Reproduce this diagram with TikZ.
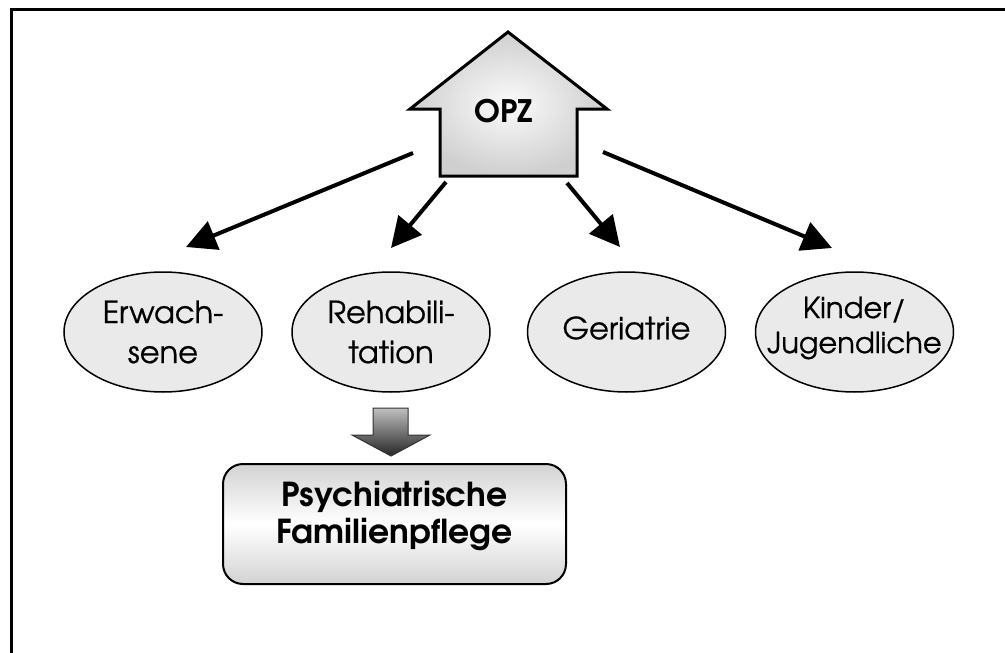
\documentclass[tikz,border=0pt]{standalone}
\usepackage{fontspec}
\setmainfont{TeX Gyre Adventor}
\newfontfamily\ellfont[FakeBold=0.6]{TeX Gyre Adventor}
\usetikzlibrary{arrows.meta,shapes.geometric}
\definecolor{ellfill}{HTML}{EAEAEA}
\begin{document}
\begin{tikzpicture}[x=1pt,y=-1pt,
  arr/.style={line width=4pt,-{Triangle[length=30pt,width=30pt]}},
  ell/.style={ellipse,draw,line width=1.5pt,fill=ellfill,minimum width=198pt,minimum height=120pt,inner sep=0pt},
  etxt/.style={align=center,font=\ellfont\fontsize{30.5}{40}\selectfont,inner sep=0pt},
  ktxt/.style={align=center,font=\ellfont\fontsize{29}{35}\selectfont,inner sep=0pt},
  btxt/.style={align=center,font=\bfseries\fontsize{33}{37.5}\selectfont,inner sep=0pt}]
\useasboundingbox (0,0) rectangle (1005,653);
\draw[line width=3pt] (11,653) -- (11,9) -- (1005,9);
% house
\draw[line width=3pt, line join=miter, inner color=gray!3, outer color=gray!38]
  (508,32) -- (607,109) -- (577,109) -- (577,176) -- (440,176) -- (440,109) -- (410,109) -- cycle;
\node[font=\bfseries\fontsize{31}{36}\selectfont, inner sep=0pt] (opz) at (504,111) {OPZ};
% ellipses
\node[ell] (erw) at (163,332) {};
\node[etxt] (erwt) at (163,332) {Erwach-\\sene};
\node[ell] (reh) at (391,332) {};
\node[etxt] (reht) at (391,332) {Rehabili-\\tation};
\node[ell] (ger) at (626.5,332) {};
\node[etxt] (gert) at (626.5,328) {Geriatrie};
\node[ell] (kin) at (854.5,332) {};
\node[ktxt] (kint) at (854.5,328) {Kinder/\\Jugendliche};
% arrows
\coordinate (s1) at (413,153); \coordinate (t1) at (186,247);
\coordinate (s2) at (446,182); \coordinate (t2) at (391,248);
\coordinate (s3) at (567,183); \coordinate (t3) at (620,247);
\coordinate (s4) at (603,152); \coordinate (t4) at (832,248);
\draw[arr] (s1) -- (t1);
\draw[arr] (s2) -- (t2);
\draw[arr] (s3) -- (t3);
\draw[arr] (s4) -- (t4);
% down arrow
\draw[line width=1pt, draw=black!80, top color=gray!50, bottom color=black!85]
  (373,408) -- (408,408) -- (408,435) -- (430,435) -- (391,456) -- (352,435) -- (373,435) -- cycle;
% box
\node[draw, line width=2pt, rounded corners=20pt, minimum width=343pt, minimum height=120pt,
  top color=gray!35, bottom color=gray!35, middle color=white, inner sep=0pt] (box) at (394.5,524) {};
\node[btxt] (boxt) at (394.5,516) {Psychiatrische\\Familienpflege};
\end{tikzpicture}
\end{document}
